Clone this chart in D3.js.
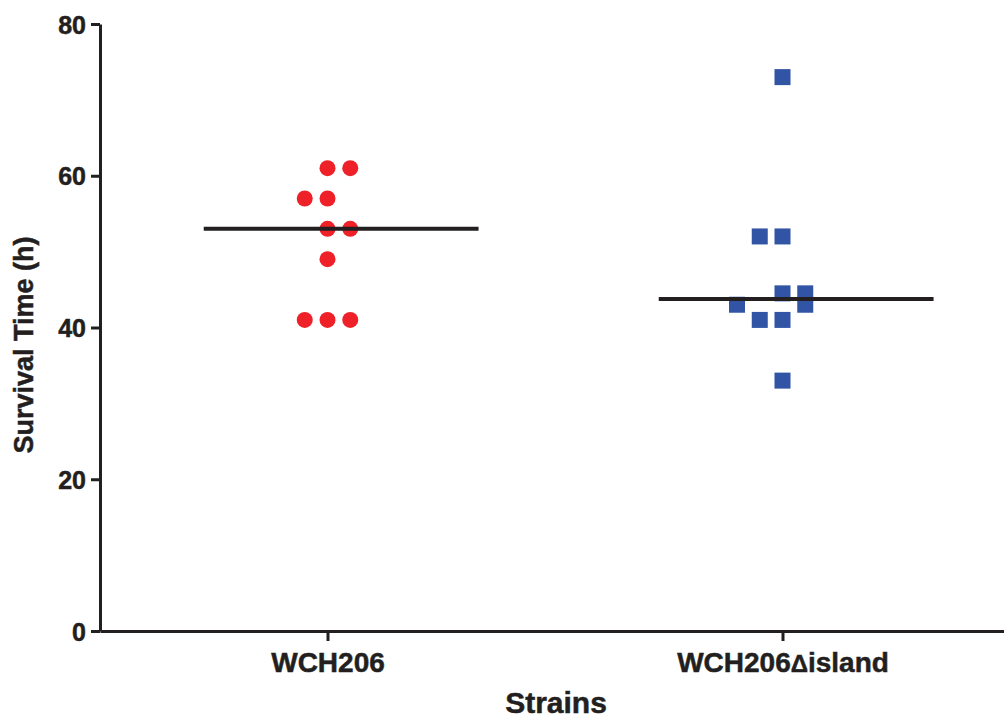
<!DOCTYPE html>
<html>
<head>
<meta charset="utf-8">
<script src="https://cdn.jsdelivr.net/npm/d3@7"></script>
<style>
  body { margin: 0; background: #fff; }
  svg { display: block; font-family: "Liberation Sans", Arial, sans-serif; font-weight: bold; }
  svg text { stroke: #231f20; stroke-width: 0.5px; }
</style>
</head>
<body>
<svg id="chart" width="1004" height="720"></svg>
<script>
'use strict';

// strains on the x axis
var categories = ['WCH206', 'WCH206\u0394island'];

// survival times (h), with the column slot each dot sits in
var wchValues = [61, 61, 57, 57, 53, 53, 49, 41, 41, 41];
var wchSlots = [0, 1, -1, 0, 0, 1, 0, -1, 0, 1];
var islandValues = [73, 52, 52, 44.5, 44.5, 43, 43, 41, 41, 33];
var islandSlots = [0, -1, 0, 0, 1, -2, 1, -1, 0, 0];

var yTicks = [0, 20, 40, 60, 80];

var ink = '#231f20';
var red = '#ee2129';
var blue = '#3154a5';

var svg = d3.select('#chart');

var y = d3.scaleLinear().domain([0, 80]).range([631, 24]);
var x = d3.scalePoint().domain(categories).range([100, 1010]).padding(0.5);
var slot = function (s) { return s * x.step() * 0.05; };

// y axis
var yAxis = svg.append('g')
    .attr('transform', 'translate(100,0)')
    .call(d3.axisLeft(y).tickValues(yTicks).tickSize(9).tickSizeOuter(0).tickPadding(5));
yAxis.select('.domain').attr('stroke', ink).attr('stroke-width', 3);
yAxis.selectAll('.tick line').attr('stroke', ink).attr('stroke-width', 3);
yAxis.selectAll('.tick text')
    .attr('fill', ink)
    .attr('font-size', 25)
    .attr('font-family', '"Liberation Sans", Arial, sans-serif')
    .attr('font-weight', 'bold')
    .attr('dy', '0.36em');

// x axis
var xAxis = svg.append('g')
    .attr('transform', 'translate(0,631)')
    .call(d3.axisBottom(x).tickSize(10).tickSizeOuter(0).tickPadding(9).tickFormat(''));
xAxis.select('.domain').attr('stroke', ink).attr('stroke-width', 3);
xAxis.selectAll('.tick line').attr('stroke', ink).attr('stroke-width', 3);

xAxis.selectAll('.tick').each(function (d) {
    var t = d3.select(this).append('text')
        .attr('y', 41)
        .attr('fill', ink)
        .attr('text-anchor', 'middle')
        .attr('font-family', '"Liberation Sans", Arial, sans-serif')
        .attr('font-weight', 'bold')
        .attr('font-size', 28);
    var parts = d.split('\u0394');
    t.append('tspan').text(parts[0]);
    if (parts.length > 1) {
        t.append('tspan').attr('font-size', 24).text('\u0394');
        t.append('tspan').text(parts[1]);
    }
});

// axis titles
svg.append('text')
    .attr('x', 556).attr('y', 713)
    .attr('text-anchor', 'middle')
    .attr('font-size', 30)
    .attr('fill', ink)
    .text('Strains');

svg.append('text')
    .attr('transform', 'translate(33,345) rotate(-90)')
    .attr('text-anchor', 'middle')
    .attr('font-size', 27)
    .attr('fill', ink)
    .text('Survival Time (h)');

// points
var wch = wchValues.map(function (v, i) { return { v: v, s: wchSlots[i] }; });
var island = islandValues.map(function (v, i) { return { v: v, s: islandSlots[i] }; });

svg.append('g').selectAll('circle')
    .data(wch)
    .join('circle')
    .attr('cx', function (d) { return x(categories[0]) + slot(d.s); })
    .attr('cy', function (d) { return y(d.v); })
    .attr('r', 8)
    .attr('fill', red);

var sq = 16;
svg.append('g').selectAll('rect')
    .data(island)
    .join('rect')
    .attr('x', function (d) { return x(categories[1]) + slot(d.s) - sq / 2; })
    .attr('y', function (d) { return y(d.v) - sq / 2; })
    .attr('width', sq)
    .attr('height', sq)
    .attr('fill', blue);

// median lines (drawn slightly right of the column centre, as in the original)
var medians = [d3.median(wchValues), d3.median(islandValues)];
var mid = function (i) { return x(categories[i]) + x.step() * 0.03; };
svg.append('g').selectAll('line')
    .data(medians)
    .join('line')
    .attr('x1', function (d, i) { return mid(i) - x.step() * 0.302; })
    .attr('x2', function (d, i) { return mid(i) + x.step() * 0.302; })
    .attr('y1', function (d) { return y(d); })
    .attr('y2', function (d) { return y(d); })
    .attr('stroke', ink)
    .attr('stroke-width', 4);
</script>
</body>
</html>
